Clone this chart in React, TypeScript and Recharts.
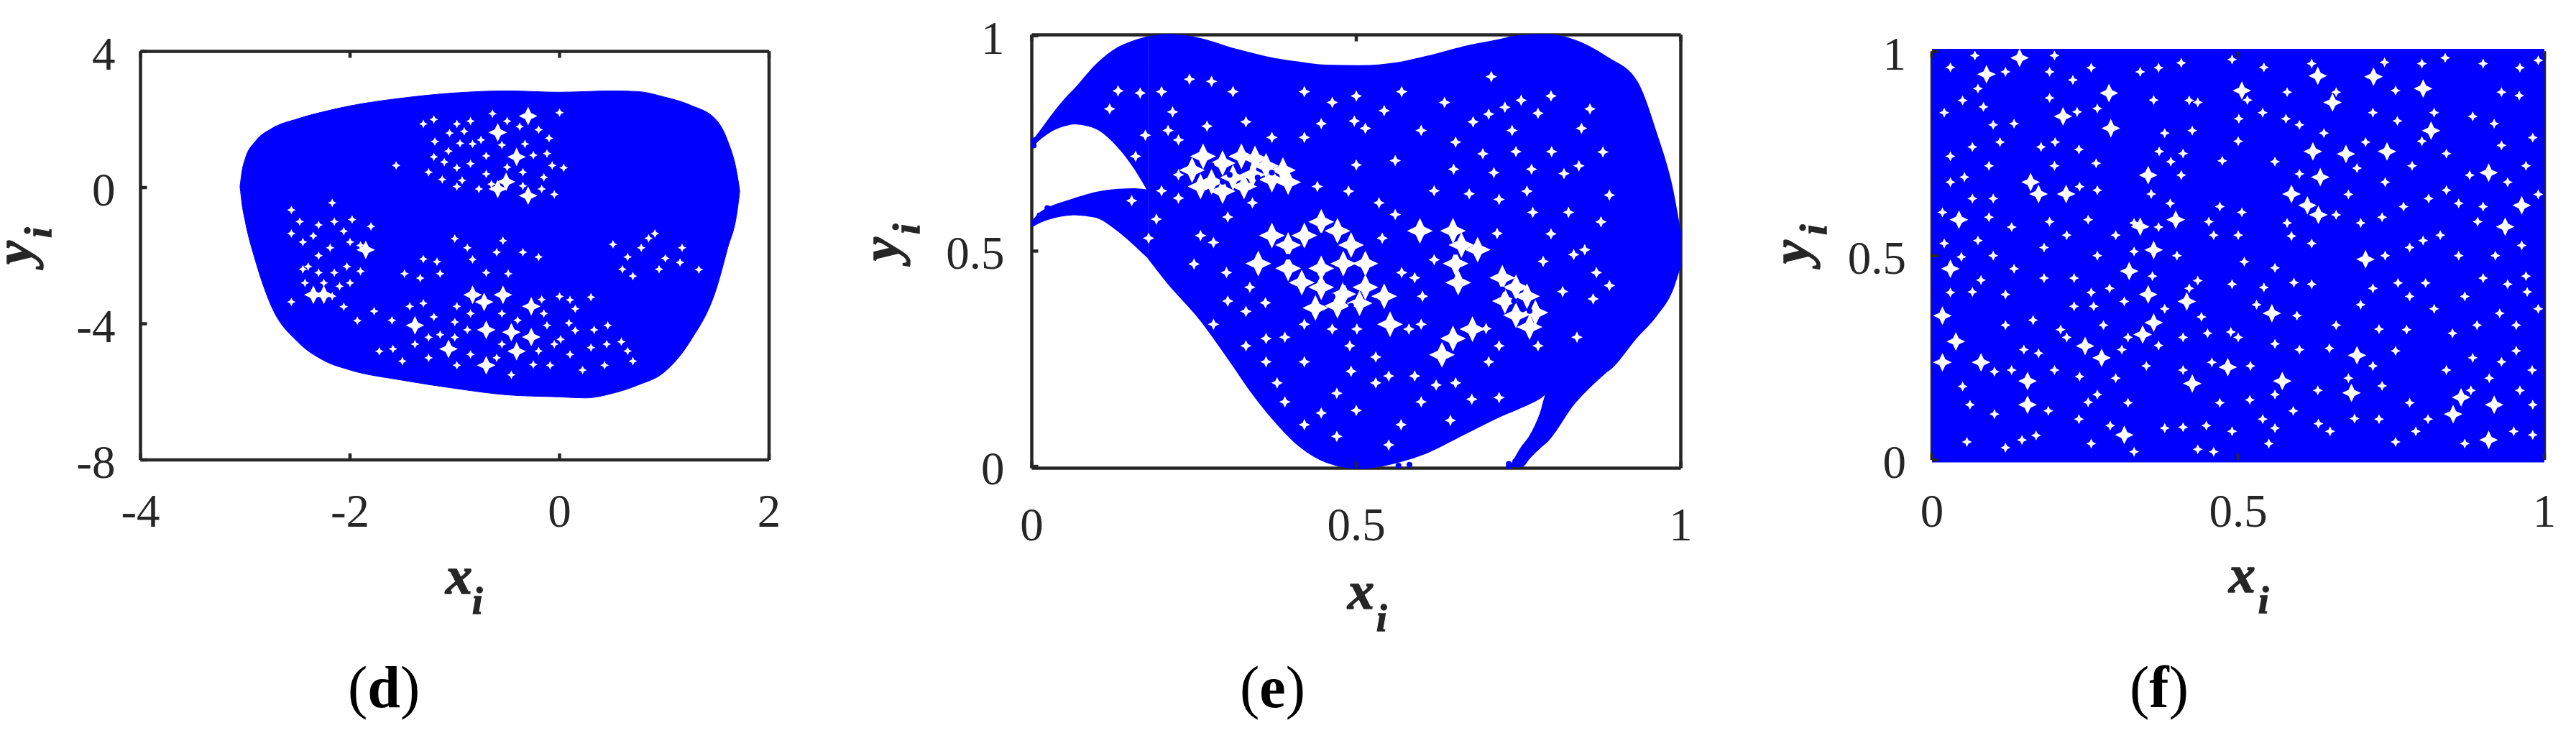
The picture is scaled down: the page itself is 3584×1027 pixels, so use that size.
import { Area, ComposedChart, Scatter, XAxis, YAxis } from "recharts";

const BLUE = "#0000ff";
const INK = "#262626";
const SERIF = "'Liberation Serif', serif";

// panel (d)
const xD = [-3.05, -3.03, -3, -2.9, -2.75, -2.5, -2.25, -2, -1.5, -1, -0.5, 0, 0.25, 0.5, 0.75, 1, 1.25, 1.5, 1.6, 1.7, 1.72];
const highD = [0.03, 0.5, 0.85, 1.37, 1.73, 2.02, 2.23, 2.4, 2.63, 2.78, 2.84, 2.8, 2.82, 2.84, 2.82, 2.66, 2.42, 1.97, 1.41, 0.3, -0.1];
const lowD = [0.03, -0.5, -1.0, -2.18, -3.49, -4.53, -5.08, -5.36, -5.66, -5.9, -6.09, -6.15, -6.18, -6.05, -5.8, -5.42, -4.5, -2.94, -1.83, -0.6, -0.1];
const ticksXD = [-4, -2, 0, 2];
const ticksYD = [-8, -4, 0, 4];
const largeD = [
  [-0.72, -3.36], [-0.54, -3.15], [-0.27, -3.49], [-0.83, -3.15], [-0.7, -5.22], [-0.46, -4.25], [-0.41, -4.81], [-0.7, -4.18],
  [-2.25, -3.15], [-2.35, -3.15], [-1.85, -1.83], [-0.51, 0.17], [-0.59, -0.04], [-0.3, -0.24], [-0.41, 0.9], [-0.59, 1.62],
  [-0.3, 2.1], [-1.38, -4.05], [-1.06, -4.74], [-0.27, -4.39],
];
const smallD = [
  [-1.3, 1.87], [-0.98, 1.87], [-0.64, 2.17], [0, 2.2], [-0.38, 1.79], [-0.91, 1.65], [-1.19, 1.35], [-1.06, 1.07], [-0.7, 0.93],
  [-0.12, 1.0], [-0.07, 0.65], [-0.98, 0.58], [-1.25, 0.45], [-1.12, 0.24], [-0.93, 0.21], [-0.17, -0.04], [-0.77, -0.04], [-0.98, 0.03],
  [0.04, 0.58], [-1.56, 0.65], [-0.33, 1.28], [-0.83, 1.28], [-2.48, -1.0], [-2.56, -0.66], [-2.17, -0.45], [-1.8, -1.14], [-1.98, -0.94],
  [-2.06, -1.28], [-1.9, -1.7], [-2.56, -1.35], [-2.35, -1.42], [-2.19, -1.77], [-2.4, -2.32], [-2.25, -2.8], [-1.9, -2.46], [-2.03, -2.32],
  [-2.43, -2.8], [-2.17, -3.19], [-2.06, -3.5], [-2.56, -3.36], [-0.2, -2.04], [-0.88, -1.77], [-1.17, -2.18], [-1.48, -2.53], [-1.14, -2.53],
  [-0.54, -1.56], [-0.49, -2.53], [-0.83, -2.11], [-1.33, -2.66], [0.51, -1.67], [0.85, -1.49], [1.01, -2.08], [0.65, -2.04], [0.78, -1.77],
  [1.17, -1.77], [1.33, -2.41], [0.7, -2.6], [0.91, -1.35], [-0.17, -3.29], [-1.43, -3.49], [-1.77, -3.63], [-1.14, -4.32], [-0.98, -3.49],
  [-0.12, -4.05], [0.15, -3.56], [0.3, -3.22], [0.09, -3.98], [-0.46, -5.5], [-0.09, -5.22], [0.22, -5.36], [0.59, -4.53], [0.43, -5.22],
  [0.33, -4.18], [-1.59, -4.74], [-1.72, -4.81], [-1.38, -4.6], [-0.88, -4.18], [0.01, -4.46], [0.46, -4.05], [-0.98, -5.22], [-1.93, -3.91],
  [-1.2, 2.0], [-1.05, 1.6], [-0.85, 1.95], [-0.75, 1.4], [-0.5, 1.95], [-0.2, 1.7], [-0.1, 1.45], [-0.25, 0.95], [-0.5, 0.6], [-0.7, 0.4],
  [-0.85, 0.7], [-1.1, 0.75], [-1.2, 0.9], [-0.35, 0.45], [-0.15, 0.3], [-0.55, 1.25], [-0.95, 1.3], [-0.65, 0.1], [-0.35, 0.05], [-0.05, -0.2],
  [-2.45, -1.6], [-2.3, -1.1], [-2.15, -1.0], [-2.0, -1.6], [-2.3, -2.0], [-2.15, -2.5], [-2.0, -2.8], [-2.45, -2.4], [-2.3, -2.5], [-2.1, -2.9],
  [-1.6, -3.9], [-1.3, -3.4], [-1.2, -3.8], [-1.0, -3.95], [-0.85, -3.7], [-0.55, -3.7], [-0.4, -3.9], [-0.15, -3.7], [0.0, -3.2], [0.1, -3.3],
  [-0.2, -4.8], [0.1, -4.9], [-0.05, -4.6], [0.3, -4.7], [0.45, -4.6], [0.65, -4.8], [0.7, -5.1], [-1.5, -5.1], [-1.25, -5.0], [-1.0, -4.4],
  [-0.85, -4.9], [-0.55, -4.6], [-0.6, -5.0], [-0.25, -5.2], [0.15, -4.2], [-1.25, -4.4], [-1.3, -2.1], [-1.0, -1.5], [-0.7, -2.5], [-0.35, -1.9],
  [-0.6, -1.9], [0.95, -2.4], [1.15, -2.2], [0.6, -2.4],
];

// panel (e)
const xE = [0, 0.014, 0.031, 0.057, 0.065, 0.099, 0.133, 0.158, 0.179, 0.209, 0.26, 0.31, 0.336, 0.37, 0.412, 0.454, 0.505, 0.564, 0.607, 0.666, 0.733, 0.738, 0.755, 0.767, 0.784, 0.794, 0.835, 0.886, 0.932, 0.962, 0.987, 1];
const topE = [0.753, 0.78, 0.815, 0.862, 0.874, 0.932, 0.972, 0.988, 0.997, 1.002, 0.993, 0.97, 0.96, 0.948, 0.938, 0.931, 0.93, 0.937, 0.951, 0.974, 0.995, 0.997, 1.0, 1.001, 1.002, 1.002, 0.99, 0.95, 0.894, 0.774, 0.644, 0.536];
const _ = null;
const mainLowE = [_, _, _, _, _, _, _, _, 0.485, 0.427, 0.34, 0.235, 0.178, 0.113, 0.048, 0.01, -0.004, 0.01, 0.031, 0.075, 0.124, 0.127, 0.138, 0.146, 0.16, 0.172, 0.2, 0.221, 0.3, 0.35, 0.41, 0.47];
const upperWingLowE = [0.742, 0.762, 0.78, 0.794, 0.796, 0.785, 0.742, 0.693, 0.641];
const lowerWingLowE = [0.557, 0.568, 0.577, 0.584, 0.585, 0.579, 0.547, 0.515, 0.485];
const lowerWingHighE = [0.568, 0.59, 0.604, 0.617, 0.621, 0.636, 0.643, 0.644, 0.641];
const spikeLowE = [_, _, _, _, _, _, _, _, _, _, _, _, _, _, _, _, _, _, _, _, _, 0, 0, 0.02, 0.045, 0.058, 0.145, 0.221];
const spikeHighE = [_, _, _, _, _, _, _, _, _, _, _, _, _, _, _, _, _, _, _, _, _, 0, 0.045, 0.069, 0.124, 0.172, 0.21, 0.221];
const ticksE = [0, 0.5, 1];
const strayE = [[0.735, 0.006], [0.745, 0.012], [0.735, 0], [0.75, 0.004], [0.565, 0.002], [0.582, 0.004], [0.003, 0.745], [0.003, 0.757], [0.012, 0.583], [0.024, 0.6]];
const blobsE = [
  [0.264, 0.72], [0.294, 0.704], [0.323, 0.72], [0.344, 0.715], [0.361, 0.698], [0.387, 0.688], [0.395, 0.66], [0.37, 0.666], [0.34, 0.677], [0.31, 0.671],
  [0.277, 0.661], [0.26, 0.65], [0.294, 0.639], [0.327, 0.65], [0.247, 0.688],
  [0.395, 0.514], [0.42, 0.536], [0.446, 0.568], [0.471, 0.547], [0.492, 0.514], [0.514, 0.471], [0.48, 0.471], [0.446, 0.46], [0.416, 0.427], [0.446, 0.416],
  [0.48, 0.4], [0.514, 0.416], [0.543, 0.395], [0.437, 0.368], [0.471, 0.373], [0.505, 0.379], [0.37, 0.536], [0.349, 0.471], [0.395, 0.46], [0.552, 0.33],
  [0.649, 0.547], [0.662, 0.514], [0.687, 0.503], [0.653, 0.471], [0.657, 0.427], [0.725, 0.438], [0.746, 0.416], [0.729, 0.384], [0.763, 0.395], [0.776, 0.357],
  [0.746, 0.351], [0.767, 0.324], [0.598, 0.547], [0.679, 0.319], [0.649, 0.297], [0.632, 0.259],
];
const inBlobsE = [
  [0.277, 0.699], [0.305, 0.677], [0.348, 0.671], [0.332, 0.693], [0.37, 0.682], [0.294, 0.661], [0.357, 0.65],
  [0.433, 0.503], [0.463, 0.492], [0.42, 0.471], [0.453, 0.438], [0.484, 0.427], [0.522, 0.438], [0.463, 0.395], [0.497, 0.46], [0.446, 0.536], [0.429, 0.395],
  [0.53, 0.384], [0.395, 0.487], [0.492, 0.373], [0.675, 0.487], [0.743, 0.384], [0.767, 0.361], [0.653, 0.498], [0.725, 0.411],
];
const smallE = [
  [0.133, 0.872], [0.167, 0.867], [0.217, 0.823], [0.243, 0.899], [0.277, 0.894], [0.175, 0.769], [0.226, 0.758], [0.226, 0.677], [0.154, 0.617], [0.192, 0.574],
  [0.302, 0.579], [0.34, 0.612], [0.488, 0.639], [0.535, 0.612], [0.56, 0.585], [0.497, 0.802], [0.514, 0.785], [0.446, 0.796], [0.543, 0.826], [0.37, 0.764],
  [0.42, 0.764], [0.463, 0.845], [0.636, 0.845], [0.704, 0.818], [0.729, 0.834], [0.754, 0.85], [0.708, 0.905], [0.653, 0.753], [0.695, 0.726], [0.746, 0.731],
  [0.801, 0.731], [0.712, 0.682], [0.674, 0.633], [0.763, 0.639], [0.843, 0.698], [0.847, 0.785], [0.772, 0.59], [0.717, 0.541], [0.835, 0.492], [0.788, 0.476],
  [0.877, 0.568], [0.818, 0.406], [0.865, 0.389], [0.852, 0.503], [0.827, 0.59], [0.628, 0.254], [0.704, 0.243], [0.653, 0.194], [0.569, 0.097], [0.53, 0.194],
  [0.492, 0.221], [0.53, 0.254], [0.463, 0.319], [0.42, 0.243], [0.361, 0.243], [0.378, 0.194], [0.581, 0.319], [0.678, 0.156], [0.645, 0.107], [0.446, 0.124],
  [0.501, 0.319], [0.623, 0.189], [0.42, 0.097], [0.602, 0.395], [0.59, 0.438], [0.302, 0.384], [0.336, 0.416], [0.361, 0.297], [0.226, 0.623], [0.26, 0.536],
  [0.12, 0.83], [0.2, 0.87], [0.31, 0.87], [0.21, 0.78], [0.16, 0.72], [0.2, 0.64], [0.27, 0.79], [0.33, 0.8], [0.42, 0.87], [0.5, 0.86],
  [0.57, 0.87], [0.6, 0.78], [0.65, 0.69], [0.68, 0.8], [0.74, 0.78], [0.78, 0.82], [0.8, 0.86], [0.86, 0.83], [0.88, 0.73], [0.82, 0.68],
  [0.89, 0.63], [0.77, 0.69], [0.72, 0.62], [0.62, 0.64], [0.56, 0.71], [0.5, 0.7], [0.44, 0.65], [0.18, 0.53], [0.25, 0.47], [0.28, 0.52],
  [0.3, 0.45], [0.28, 0.33], [0.33, 0.36], [0.39, 0.3], [0.42, 0.33], [0.36, 0.38], [0.57, 0.45], [0.6, 0.33], [0.72, 0.28], [0.7, 0.32],
  [0.78, 0.28], [0.84, 0.3], [0.87, 0.45], [0.8, 0.54], [0.89, 0.42], [0.6, 0.15], [0.5, 0.13], [0.47, 0.07], [0.55, 0.05], [0.66, 0.05],
  [0.39, 0.15], [0.33, 0.28], [0.72, 0.16], [0.62, 0.48], [0.54, 0.53], [0.49, 0.28], [0.55, 0.21], [0.47, 0.17], [0.59, 0.21],
];

// panel (f)
const xF = [0, 1];
const lowF = [0, 0];
const highF = [1, 1];
const ticksF = [0, 0.5, 1];
const largeF = [
  [0.622, 0.755], [0.634, 0.692], [0.613, 0.623], [0.631, 0.6], [0.587, 0.651], [0.398, 0.588], [0.34, 0.571], [0.362, 0.514], [0.322, 0.462], [0.353, 0.405],
  [0.362, 0.336], [0.344, 0.307], [0.161, 0.68], [0.219, 0.651], [0.174, 0.651], [0.03, 0.468], [0.017, 0.353], [0.039, 0.29], [0.017, 0.239], [0.156, 0.193],
  [0.156, 0.135], [0.08, 0.239], [0.708, 0.491], [0.694, 0.256], [0.909, 0.703], [0.815, 0.806], [0.864, 0.153], [0.918, 0.135], [0.851, 0.112], [0.909, 0.049],
  [0.685, 0.164], [0.555, 0.359], [0.572, 0.193], [0.483, 0.227], [0.425, 0.187], [0.416, 0.388], [0.277, 0.25], [0.25, 0.279], [0.314, 0.061], [0.143, 0.984],
  [0.089, 0.944], [0.214, 0.841], [0.289, 0.898], [0.292, 0.812], [0.63, 0.94], [0.654, 0.875], [0.506, 0.904], [0.802, 0.909], [0.721, 0.938], [0.353, 0.697],
  [0.044, 0.588], [0.936, 0.571], [0.963, 0.623], [0.743, 0.755], [0.676, 0.749],
];
const smallF = [
  [0.03, 0.961], [0.075, 0.909], [0.084, 0.864], [0.134, 0.823], [0.111, 0.778], [0.066, 0.766], [0.03, 0.743], [0.093, 0.72], [0.053, 0.692], [0.066, 0.64],
  [0.017, 0.606], [0.093, 0.594], [0.075, 0.537], [0.048, 0.497], [0.134, 0.468], [0.066, 0.411], [0.12, 0.405], [0.165, 0.342], [0.21, 0.319], [0.174, 0.261],
  [0.102, 0.216], [0.062, 0.135], [0.102, 0.112], [0.057, 0.044], [0.147, 0.049], [0.192, 0.95], [0.237, 0.852], [0.192, 0.886], [0.178, 0.766], [0.201, 0.778],
  [0.268, 0.726], [0.241, 0.669], [0.192, 0.583], [0.255, 0.588], [0.183, 0.52], [0.183, 0.445], [0.232, 0.445], [0.232, 0.376], [0.264, 0.376], [0.241, 0.204],
  [0.255, 0.141], [0.291, 0.084], [0.314, 0.388], [0.362, 0.881], [0.407, 0.972], [0.434, 0.875], [0.425, 0.806], [0.371, 0.755], [0.407, 0.697], [0.358, 0.651],
  [0.389, 0.628], [0.452, 0.583], [0.434, 0.439], [0.488, 0.313], [0.457, 0.239], [0.38, 0.078], [0.448, 0.084], [0.434, 0.026], [0.515, 0.881], [0.542, 0.961],
  [0.501, 0.835], [0.474, 0.732], [0.506, 0.606], [0.51, 0.485], [0.542, 0.422], [0.596, 0.353], [0.56, 0.284], [0.56, 0.078], [0.519, 0.147], [0.578, 0.835],
  [0.587, 0.548], [0.591, 0.434], [0.649, 0.273], [0.631, 0.089], [0.69, 0.101], [0.739, 0.973], [0.757, 0.904], [0.708, 0.778], [0.694, 0.714], [0.735, 0.594],
  [0.784, 0.72], [0.811, 0.64], [0.802, 0.537], [0.761, 0.433], [0.806, 0.433], [0.775, 0.319], [0.757, 0.267], [0.735, 0.181], [0.757, 0.044], [0.838, 0.984],
  [0.883, 0.841], [0.918, 0.823], [0.878, 0.697], [0.891, 0.583], [0.86, 0.628], [0.963, 0.525], [0.972, 0.411], [0.9, 0.445], [0.927, 0.359], [0.954, 0.33],
  [0.883, 0.25], [0.954, 0.267], [0.981, 0.135], [0.981, 0.061], [0.99, 0.978], [0.959, 0.892], [0.981, 0.789],
  [0.02, 0.85], [0.05, 0.88], [0.1, 0.82], [0.12, 0.95], [0.07, 0.99], [0.03, 0.68], [0.1, 0.64], [0.13, 0.57], [0.02, 0.53], [0.1, 0.5],
  [0.08, 0.44], [0.03, 0.41], [0.12, 0.33], [0.15, 0.27], [0.05, 0.18], [0.13, 0.22], [0.19, 0.12], [0.17, 0.06], [0.12, 0.03], [0.2, 0.22],
  [0.2, 0.99], [0.23, 0.93], [0.26, 0.96], [0.27, 0.86], [0.2, 0.72], [0.24, 0.76], [0.27, 0.66], [0.22, 0.55], [0.27, 0.5], [0.3, 0.55],
  [0.26, 0.41], [0.29, 0.42], [0.22, 0.3], [0.28, 0.33], [0.3, 0.2], [0.27, 0.16], [0.24, 0.1], [0.32, 0.14], [0.26, 0.04], [0.33, 0.02],
  [0.34, 0.95], [0.37, 0.96], [0.38, 0.8], [0.42, 0.88], [0.41, 0.75], [0.39, 0.73], [0.33, 0.58], [0.37, 0.57], [0.33, 0.51], [0.36, 0.45],
  [0.4, 0.5], [0.32, 0.3], [0.37, 0.28], [0.35, 0.23], [0.31, 0.27], [0.38, 0.37], [0.42, 0.42], [0.44, 0.35], [0.41, 0.3], [0.45, 0.31],
  [0.41, 0.22], [0.47, 0.14], [0.41, 0.08], [0.49, 0.07], [0.46, 0.02], [0.49, 0.98], [0.5, 0.78], [0.47, 0.62], [0.5, 0.55], [0.46, 0.55],
  [0.49, 0.43], [0.53, 0.38], [0.5, 0.3], [0.52, 0.23], [0.56, 0.16], [0.54, 0.1], [0.59, 0.12], [0.55, 0.04], [0.54, 0.85], [0.56, 0.73],
  [0.58, 0.9], [0.6, 0.82], [0.62, 0.97], [0.66, 0.9], [0.64, 0.8], [0.6, 0.7], [0.58, 0.58], [0.62, 0.53], [0.66, 0.6], [0.62, 0.43],
  [0.56, 0.47], [0.6, 0.27], [0.63, 0.17], [0.65, 0.07], [0.68, 0.2], [0.66, 0.33], [0.7, 0.38], [0.68, 0.65], [0.72, 0.85], [0.76, 0.83],
  [0.74, 0.68], [0.77, 0.62], [0.7, 0.58], [0.74, 0.5], [0.78, 0.52], [0.72, 0.42], [0.78, 0.4], [0.73, 0.32], [0.72, 0.23], [0.78, 0.14],
  [0.73, 0.1], [0.79, 0.07], [0.8, 0.97], [0.82, 0.85], [0.8, 0.78], [0.84, 0.75], [0.84, 0.66], [0.83, 0.55], [0.86, 0.5], [0.82, 0.37],
  [0.85, 0.31], [0.84, 0.22], [0.88, 0.17], [0.81, 0.1], [0.87, 0.04], [0.9, 0.97], [0.93, 0.9], [0.96, 0.96], [0.93, 0.77], [0.97, 0.72],
  [0.94, 0.68], [0.9, 0.62], [0.99, 0.65], [0.92, 0.5], [0.97, 0.45], [0.94, 0.43], [0.99, 0.37], [0.93, 0.24], [0.98, 0.22], [0.91, 0.2],
  [0.96, 0.17], [0.95, 0.07], [0.89, 0.33], [0.87, 0.4],
];

const band = (lo: (number | null)[], hi: (number | null)[], i: number) =>
  lo[i] == null || hi[i] == null ? null : [lo[i], hi[i]];
const pts = (list: number[][]) => list.map(([x, y]) => ({ x, y }));

const rowsD = xD.map((x, i) => ({ x, main: band(lowD, highD, i) }));
const rowsE = xE.map((x, i) => ({
  x,
  main: band(mainLowE, topE, i),
  upper: band(upperWingLowE, topE, i),
  lower: band(lowerWingLowE, lowerWingHighE, i),
  spike: band(spikeLowE, spikeHighE, i),
}));
const rowsF = xF.map((x, i) => ({ x, main: band(lowF, highF, i) }));

const dot = (r: number, fill: string) => (p: any) => <circle cx={p.cx} cy={p.cy} r={r} fill={fill} />;
// concave four-point speck, the gap left between neighbouring round markers
const star = (r: number) => (p: any) => {
  const k = r * 0.32;
  const { cx, cy } = p;
  return (
    <path
      d={`M${cx} ${cy - r}L${cx + k} ${cy - k}L${cx + r} ${cy}L${cx + k} ${cy + k}L${cx} ${cy + r}L${cx - k} ${cy + k}L${cx - r} ${cy}L${cx - k} ${cy - k}Z`}
      fill="#fff"
    />
  );
};

type Side = "bottom" | "left" | "top" | "right";

const makeTick = (side: Side, labelDrop: number, labelGap: number) => (p: any) => {
  const { x, y, payload } = p;
  const len = 9;
  if (side === "top") return <line x1={x} x2={x} y1={y} y2={y + len} stroke={INK} strokeWidth={4.5} />;
  if (side === "right") return <line x1={x} x2={x - len} y1={y} y2={y} stroke={INK} strokeWidth={4.5} />;
  if (side === "bottom")
    return (
      <g>
        <line x1={x} x2={x} y1={y} y2={y - len} stroke={INK} strokeWidth={4.5} />
        <text x={x} y={y + labelDrop} textAnchor="middle" fontFamily={SERIF} fontSize={65} fill={INK}>
          {payload.value}
        </text>
      </g>
    );
  return (
    <g>
      <line x1={x} x2={x + len} y1={y} y2={y} stroke={INK} strokeWidth={4.5} />
      <text x={x - labelGap} y={y + 25} textAnchor="end" fontFamily={SERIF} fontSize={65} fill={INK}>
        {payload.value}
      </text>
    </g>
  );
};

function AxisTitles({ xt, yt }: { xt: number[]; yt: number[] }) {
  const style = { fontFamily: SERIF, fontWeight: 700, fontStyle: "italic", fill: INK, stroke: INK, strokeWidth: 1.5 } as const;
  return (
    <g>
      <text x={xt[0]} y={xt[1]} fontSize={74} {...style}>x</text>
      <text x={xt[2]} y={xt[3]} fontSize={52} {...style}>i</text>
      <text transform={`translate(${yt[0]},${yt[1]}) rotate(-90)`} fontSize={74} {...style}>y</text>
      <text transform={`translate(${yt[2]},${yt[3]}) rotate(-90)`} fontSize={52} {...style}>i</text>
    </g>
  );
}

function Panel(props: {
  left: number;
  width: number;
  plot: number[];
  domX: number[];
  domY: number[];
  ticksX: number[];
  ticksY: number[];
  rows: any[];
  areas: string[];
  strokeW: number;
  labelDrop: number;
  labelGap: number;
  xt: number[];
  yt: number[];
  children?: any;
}) {
  const { left, width, plot, domX, domY, ticksX, ticksY } = props;
  const [l, t, r, b] = plot;
  const axisLine = { stroke: INK, strokeWidth: 4.5 };
  const anyProps: any = { zIndex: 550 };
  return (
    <div style={{ position: "absolute", left, top: 0 }}>
      <ComposedChart width={width} height={1027} data={props.rows} margin={{ top: 0, right: 0, bottom: 0, left: 0 }}>
        <XAxis dataKey="x" type="number" domain={domX} ticks={ticksX} height={1027 - b} axisLine={axisLine} tickLine={false} tickSize={0} tickMargin={0} interval={0}
          tick={makeTick("bottom", props.labelDrop, 0)} />
        <XAxis xAxisId="top" dataKey="x" orientation="top" type="number" domain={domX} ticks={ticksX} height={t} axisLine={axisLine} tickLine={false} tickSize={0} tickMargin={0} interval={0}
          tick={makeTick("top", 0, 0)} />
        <YAxis type="number" domain={domY} ticks={ticksY} width={l} axisLine={axisLine} tickLine={false} tickSize={0} tickMargin={0} interval={0}
          tick={makeTick("left", 0, props.labelGap)} />
        <YAxis yAxisId="right" orientation="right" type="number" domain={domY} ticks={ticksY} width={width - r} axisLine={axisLine} tickLine={false} tickSize={0} tickMargin={0} interval={0}
          tick={makeTick("right", 0, 0)} />
        {props.areas.map((k) => (
          <Area key={k} dataKey={k} type="monotone" fill={BLUE} fillOpacity={1} stroke={BLUE} strokeWidth={props.strokeW} dot={false} activeDot={false}
            isAnimationActive={false} connectNulls={false} {...anyProps} />
        ))}
        {props.children}
        <AxisTitles xt={props.xt} yt={props.yt} />
      </ComposedChart>
    </div>
  );
}

function Caption({ x, letter }: { x: number; letter: string }) {
  return (
    <svg style={{ position: "absolute", left: 0, top: 0 }} width={3584} height={1027}>
      <text x={x} y={984} fontFamily={SERIF} fontSize={82} fill="#000">
        (<tspan fontWeight={700}>{letter}</tspan>)
      </text>
    </svg>
  );
}

export default function App() {
  return (
    <div style={{ position: "absolute", left: 0, top: 0, width: 3584, height: 1027, background: "#fff", overflow: "hidden" }}>
      <Panel left={0} width={1200} plot={[195.5, 71.5, 1070, 640]} domX={[-4, 2]} domY={[-8, 4]} ticksX={ticksXD} ticksY={ticksYD}
        rows={rowsD} areas={["main"]} strokeW={1} labelDrop={93} labelGap={35} xt={[620, 826, 657, 854]} yt={[44, 368, 71, 331]}>
        <Scatter data={pts(largeD)} dataKey="y" shape={star(13)} isAnimationActive={false} />
        <Scatter data={pts(smallD)} dataKey="y" shape={star(6)} isAnimationActive={false} />
      </Panel>
      <Panel left={1180} width={1200} plot={[255.5, 48.5, 1158.5, 651.5]} domX={[0, 1]} domY={[0, 1]} ticksX={ticksE} ticksY={ticksE}
        rows={rowsE} areas={["main", "upper", "lower", "spike"]} strokeW={2} labelDrop={100} labelGap={38} xt={[695, 847, 735, 878]} yt={[70, 363, 99, 326]}>
        <Scatter data={pts(strayE)} dataKey="y" shape={dot(4, BLUE)} isAnimationActive={false} />
        <Scatter data={pts(blobsE)} dataKey="y" shape={star(18)} isAnimationActive={false} />
        <Scatter data={pts(inBlobsE)} dataKey="y" shape={dot(4, BLUE)} isAnimationActive={false} />
        <Scatter data={pts(smallE)} dataKey="y" shape={star(8)} isAnimationActive={false} />
      </Panel>
      <Panel left={2384} width={1200} plot={[304, 71.5, 1156, 640]} domX={[0, 1]} domY={[0, 1]} ticksX={ticksF} ticksY={ticksF}
        rows={rowsF} areas={["main"]} strokeW={7} labelDrop={93} labelGap={36} xt={[717, 824, 758, 853]} yt={[132, 367, 157, 327]}>
        <Scatter data={pts(largeF)} dataKey="y" shape={star(13)} isAnimationActive={false} />
        <Scatter data={pts(smallF)} dataKey="y" shape={star(7)} isAnimationActive={false} />
      </Panel>
      <Caption x={484} letter="d" />
      <Caption x={1725} letter="e" />
      <Caption x={2963} letter="f" />
    </div>
  );
}
